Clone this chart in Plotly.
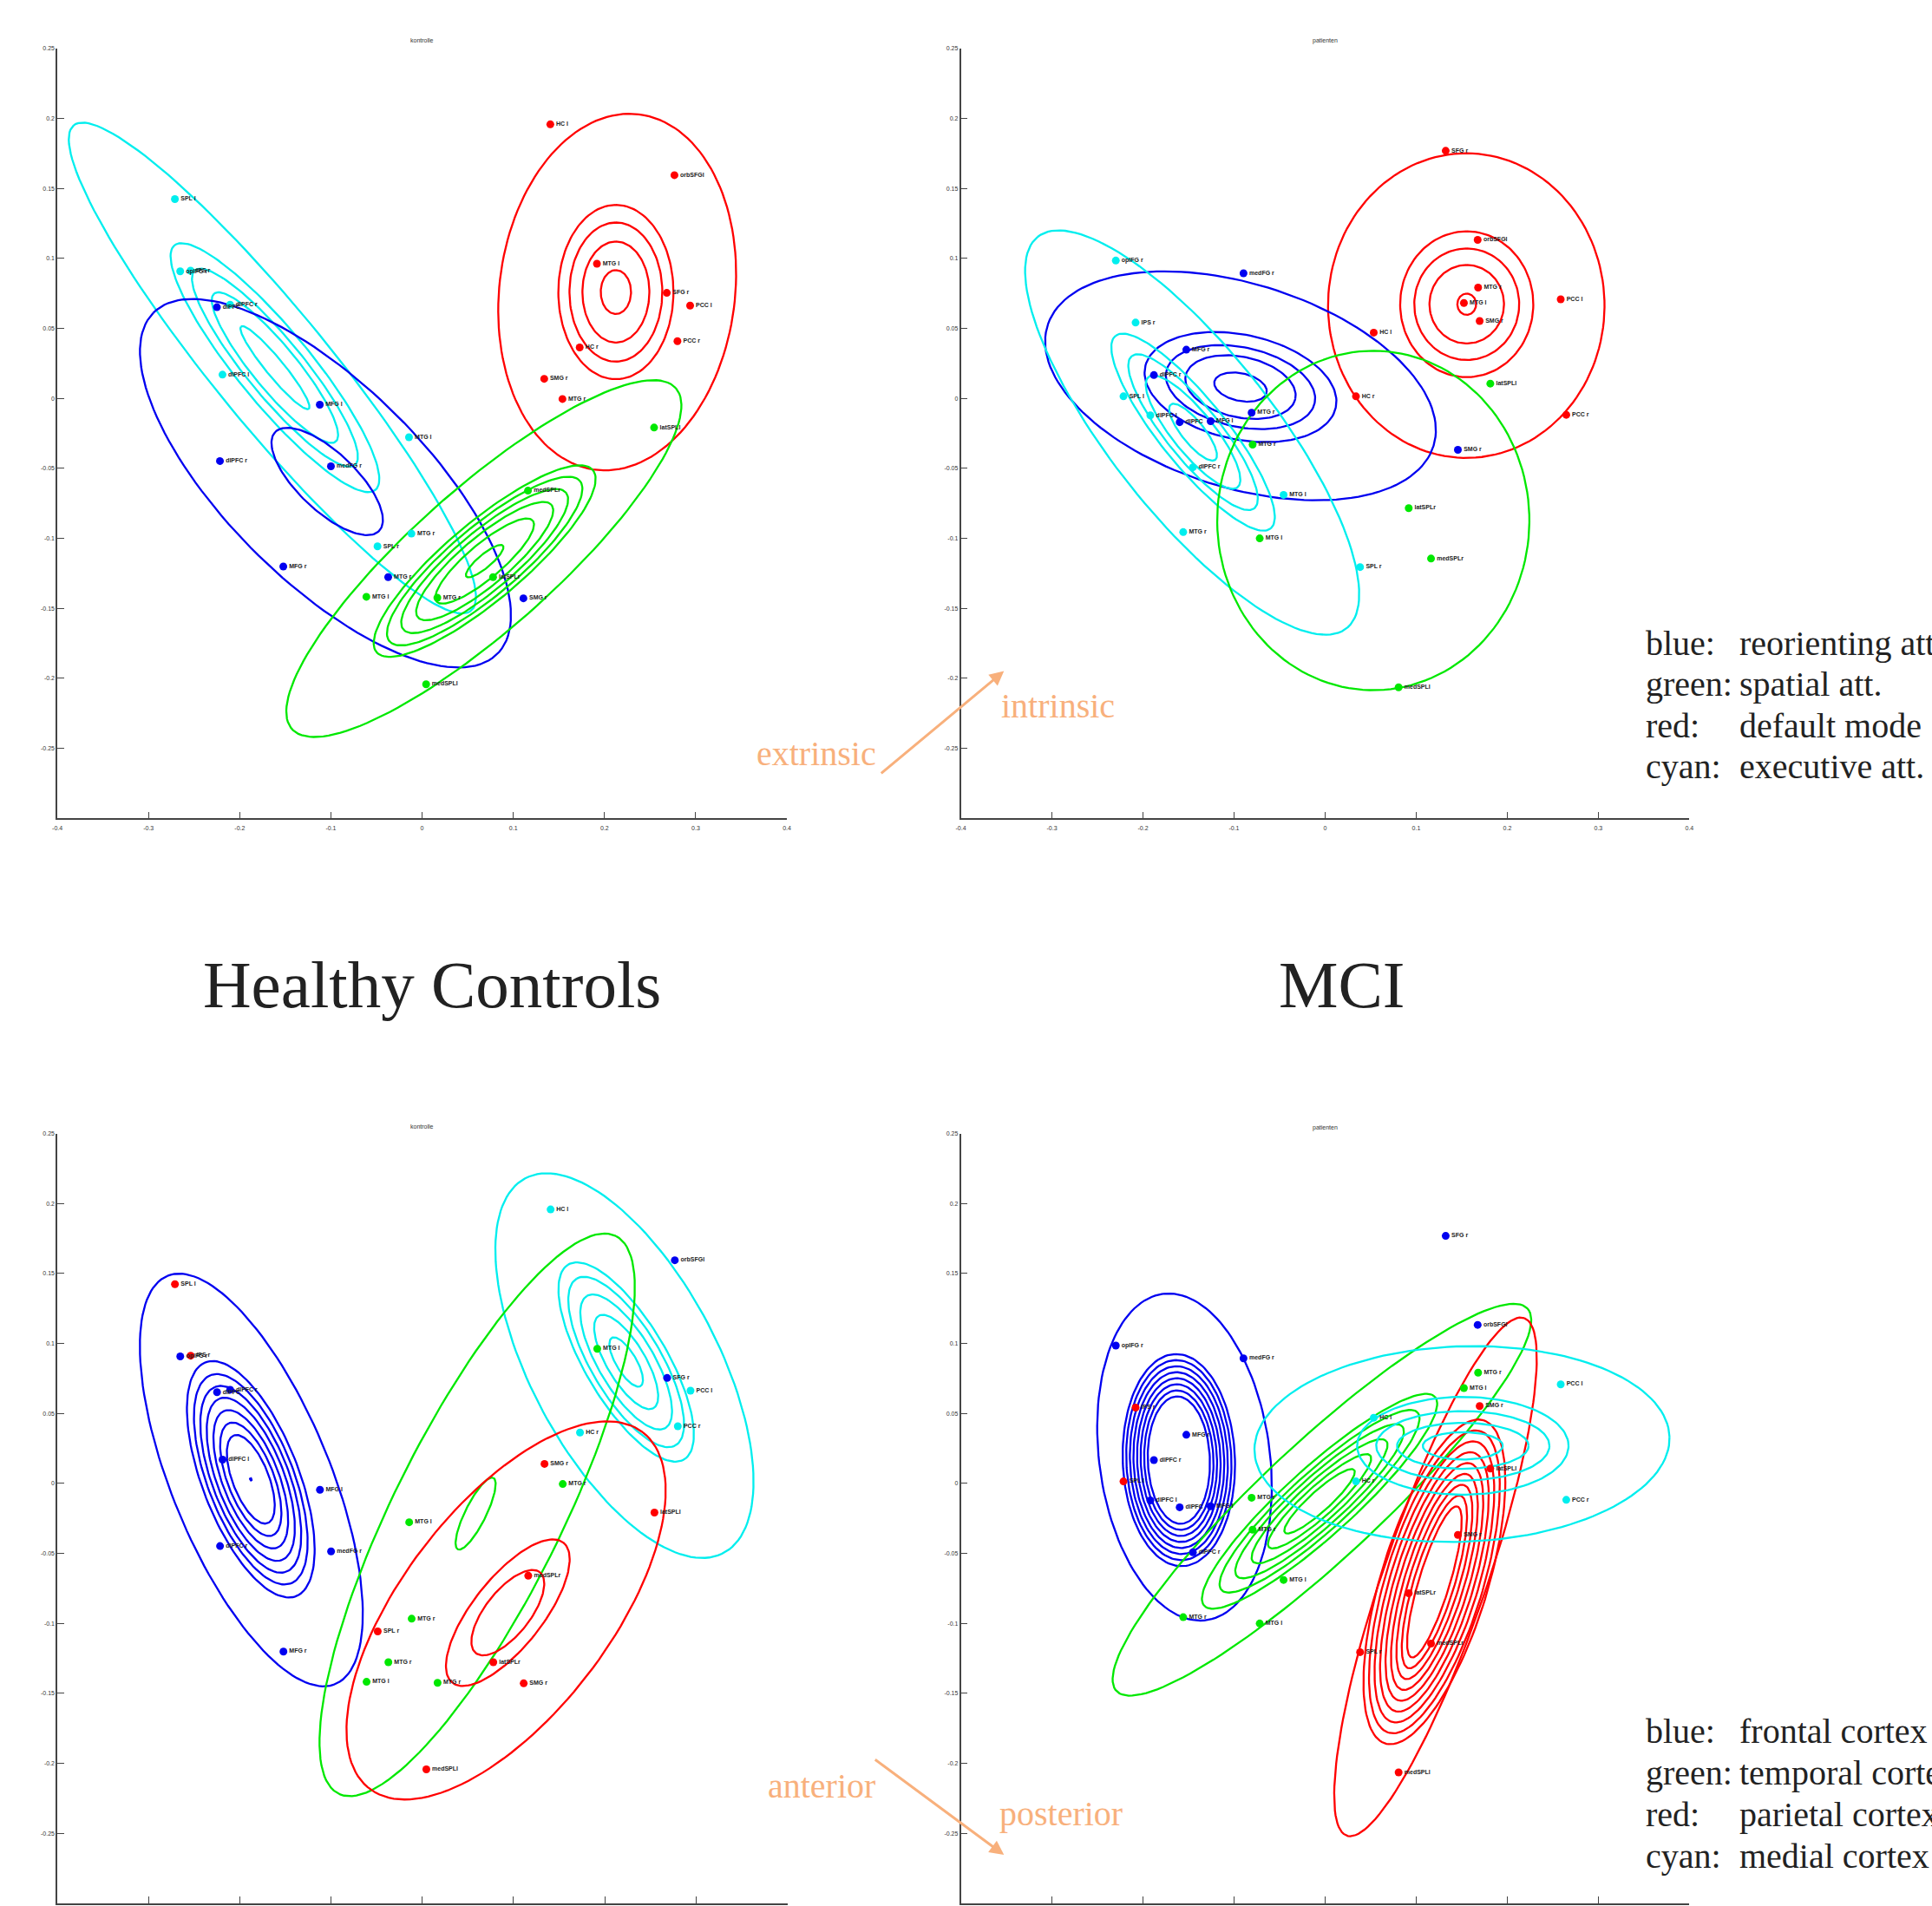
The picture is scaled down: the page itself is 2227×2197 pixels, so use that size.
import numpy as np
import plotly.graph_objects as go

# ---------------- data ----------------
# kontrolle (healthy controls): name, x, y, network colour, region colour
K_names = ["HC l", "orbSFGl", "MTG l", "SFG r", "PCC l", "PCC r", "HC r", "SMG r", "MTG r",
           "SPL l", "opIFG r", "IPS r", "dlPFC r", "dlPFC l", "MTG l", "MTG r", "SPL r",
           "dlPFC", "MFG l", "dlPFC r", "medFG r", "MFG r", "MTG r", "SMG r",
           "medSPLr", "latSPLr", "MTG l", "MTG r", "medSPLl", "latSPLl"]
K_x = [0.1406, 0.2767, 0.1917, 0.2683, 0.2939, 0.2800, 0.1728, 0.1339, 0.1539,
       -0.2711, -0.2653, -0.2539, -0.2106, -0.2189, -0.0144, -0.0117, -0.0489,
       -0.2250, -0.1122, -0.2217, -0.1000, -0.1522, -0.0372, 0.1111,
       0.1161, 0.0778, -0.0611, 0.0167, 0.0044, 0.2544]
K_y = [0.1958, 0.1595, 0.0962, 0.0754, 0.0663, 0.0409, 0.0364, 0.0140, -0.0004,
       0.1424, 0.0908, 0.0913, 0.0670, 0.0170, -0.0277, -0.0966, -0.1057,
       0.0652, -0.0045, -0.0447, -0.0485, -0.1201, -0.1277, -0.1428,
       -0.0659, -0.1277, -0.1417, -0.1424, -0.2042, -0.0208]
K_net = ["r"] * 9 + ["c"] * 8 + ["b"] * 7 + ["g"] * 6
K_reg = ["c", "b", "g", "b", "c", "c", "c", "r", "g",
         "r", "b", "r", "b", "b", "g", "g", "r",
         "b", "b", "b", "b", "b", "g", "r",
         "r", "r", "g", "g", "r", "r"]

# patienten (MCI)
P_names = ["SFG r", "orbSFGl", "MTG r", "MTG l", "SMG r", "PCC l", "HC l", "HC r", "PCC r",
           "opIFG r", "IPS r", "SPL l", "dlPFC l", "dlPFC r", "MTG l", "MTG r", "SPL r",
           "medFG r", "MFG r", "dlPFC r", "MTG r", "dlPFC", "MFG l", "SMG r",
           "latSPLl", "MTG r", "latSPLr", "MTG l", "medSPLr", "medSPLl"]
P_x = [0.1324, 0.1675, 0.1680, 0.1524, 0.1697, 0.2587, 0.0534, 0.0339, 0.2648,
       -0.2298, -0.2081, -0.2214, -0.1919, -0.1452, -0.0456, -0.1558, 0.0384,
       -0.0896, -0.1524, -0.1880, -0.0807, -0.1597, -0.1257, 0.1458,
       0.1814, -0.0796, 0.0918, -0.0718, 0.1163, 0.0807]
P_y = [0.1769, 0.1133, 0.0792, 0.0682, 0.0553, 0.0708, 0.0470, 0.0015, -0.0117,
       0.0985, 0.0542, 0.0015, -0.0121, -0.0492, -0.0689, -0.0955, -0.1205,
       0.0894, 0.0348, 0.0167, -0.0102, -0.0170, -0.0163, -0.0367,
       0.0106, -0.0330, -0.0784, -0.1000, -0.1144, -0.2064]
P_net = ["r"] * 9 + ["c"] * 8 + ["b"] * 7 + ["g"] * 6
P_reg = ["b", "b", "g", "g", "r", "c", "c", "c", "c",
         "b", "r", "r", "b", "b", "g", "g", "r",
         "b", "b", "b", "g", "b", "b", "r",
         "r", "g", "r", "g", "r", "r"]

# density contours / ellipses: (colour, cx, cy, a, b, angle_deg)
TL_ELL = [
    ("r", 0.2139, 0.0760, 0.1957, 0.1292, 83),
    ("r", 0.2125, 0.0760, 0.0953, 0.0631, 90), ("r", 0.2125, 0.0760, 0.0760, 0.0509, 90),
    ("r", 0.2125, 0.0760, 0.0552, 0.0367, 90), ("r", 0.2125, 0.0760, 0.0240, 0.0166, 90),
    ("c", -0.1642, 0.0217, 0.3433, 0.0630, 129.4),
    ("c", -0.1614, 0.0220, 0.1732, 0.0402, 129.5), ("c", -0.1614, 0.0220, 0.1379, 0.0312, 129.5),
    ("c", -0.1614, 0.0220, 0.1048, 0.0243, 129.5), ("c", -0.1614, 0.0220, 0.0583, 0.0098, 129.5),
    ("b", -0.1060, -0.0606, 0.2652, 0.1078, 135.4),
    ("b", -0.1041, -0.0593, 0.0785, 0.0318, 136.6),
    ("g", 0.0677, -0.1144, 0.2811, 0.0772, 41.5),
    ("g", 0.0686, -0.1162, 0.1548, 0.0426, 40), ("g", 0.0686, -0.1162, 0.1363, 0.0375, 40),
    ("g", 0.0686, -0.1162, 0.1164, 0.0320, 40), ("g", 0.0686, -0.1162, 0.0956, 0.0263, 40),
    ("g", 0.0686, -0.1162, 0.0688, 0.0189, 40), ("g", 0.0686, -0.1162, 0.0262, 0.0072, 40),
]
TR_ELL = [
    ("r", 0.1550, 0.0663, 0.1665, 0.1518, 90),
    ("r", 0.1555, 0.0673, 0.0797, 0.0731, 90), ("r", 0.1555, 0.0673, 0.0609, 0.0576, 90),
    ("r", 0.1555, 0.0673, 0.0429, 0.0409, 90), ("r", 0.1555, 0.0673, 0.0116, 0.0103, 90),
    ("b", -0.0929, 0.0090, 0.2219, 0.1115, -17.2),
    ("b", -0.0929, 0.0081, 0.1070, 0.0572, -12), ("b", -0.0929, 0.0081, 0.0833, 0.0435, -12),
    ("b", -0.0929, 0.0081, 0.0615, 0.0331, -12), ("b", -0.0929, 0.0081, 0.0293, 0.0151, -12),
    ("c", -0.1460, -0.0244, 0.2730, 0.0893, 128.4),
    ("c", -0.1450, -0.0241, 0.1354, 0.0364, 129), ("c", -0.1450, -0.0241, 0.1070, 0.0293, 129),
    ("c", -0.1450, -0.0241, 0.0776, 0.0227, 129), ("c", -0.1450, -0.0241, 0.0388, 0.0123, 129),
    ("g", 0.0529, -0.0872, 0.1855, 0.1714, 90),
]
BL_ELL = [
    ("b", -0.1874, 0.0025, 0.2413, 0.0870, 112.4),
    ("b", -0.1880, 0.0030, 0.1371, 0.0530, 111.2), ("b", -0.1880, 0.0030, 0.1220, 0.0472, 111.2),
    ("b", -0.1880, 0.0030, 0.1083, 0.0419, 111.2), ("b", -0.1880, 0.0030, 0.0946, 0.0366, 111.2),
    ("b", -0.1880, 0.0030, 0.0802, 0.0310, 111.2), ("b", -0.1880, 0.0030, 0.0658, 0.0254, 111.2),
    ("b", -0.1880, 0.0030, 0.0514, 0.0199, 111.2), ("b", -0.1880, 0.0030, 0.0015, 0.0008, 111.2),
    ("c", 0.2215, 0.0842, 0.2318, 0.1024, 118),
    ("c", 0.2234, 0.0868, 0.1240, 0.0447, 120.8), ("c", 0.2234, 0.0868, 0.1060, 0.0382, 120.8),
    ("c", 0.2234, 0.0868, 0.0840, 0.0303, 120.8), ("c", 0.2234, 0.0868, 0.0587, 0.0211, 120.8),
    ("c", 0.2234, 0.0868, 0.0307, 0.0111, 120.8),
    ("g", 0.0601, -0.0224, 0.3406, 0.0919, 63.5),
    ("g", 0.0584, -0.0215, 0.0436, 0.0114, 63.5),
    ("r", 0.0918, -0.0907, 0.2457, 0.1138, 52.4),
    ("r", 0.0937, -0.0923, 0.0978, 0.0381, 51.5), ("r", 0.0937, -0.0923, 0.0564, 0.0243, 51.5),
]
BR_ELL = [
    ("b", -0.1544, 0.0189, 0.1799, 0.0937, 97.6),
    ("b", -0.1606, 0.0167, 0.1160, 0.0616, 92), ("b", -0.1606, 0.0167, 0.1094, 0.0577, 92),
    ("b", -0.1606, 0.0167, 0.1027, 0.0537, 92), ("b", -0.1606, 0.0167, 0.0961, 0.0498, 92),
    ("b", -0.1606, 0.0167, 0.0895, 0.0458, 92), ("b", -0.1606, 0.0167, 0.0829, 0.0419, 92),
    ("b", -0.1606, 0.0167, 0.0762, 0.0380, 92), ("b", -0.1606, 0.0167, 0.0696, 0.0341, 92),
    ("g", -0.0035, -0.0116, 0.3076, 0.0639, 42.8),
    ("g", -0.0061, -0.0127, 0.1705, 0.0375, 42), ("g", -0.0061, -0.0127, 0.1449, 0.0319, 42),
    ("g", -0.0061, -0.0127, 0.1222, 0.0269, 42), ("g", -0.0061, -0.0127, 0.0985, 0.0217, 42),
    ("g", -0.0061, -0.0127, 0.0748, 0.0165, 42), ("g", -0.0061, -0.0127, 0.0511, 0.0112, 42),
    ("r", 0.1212, -0.0667, 0.2992, 0.0568, 71),
    ("r", 0.1200, -0.0703, 0.1847, 0.0587, 73), ("r", 0.1200, -0.0703, 0.1723, 0.0535, 73),
    ("r", 0.1200, -0.0703, 0.1600, 0.0483, 73), ("r", 0.1200, -0.0703, 0.1477, 0.0431, 73),
    ("r", 0.1200, -0.0703, 0.1354, 0.0379, 73), ("r", 0.1200, -0.0703, 0.1231, 0.0327, 73),
    ("r", 0.1200, -0.0703, 0.1108, 0.0275, 73), ("r", 0.1200, -0.0703, 0.0985, 0.0223, 73),
    ("r", 0.1200, -0.0703, 0.0862, 0.0170, 73),
    ("c", 0.1503, 0.0282, 0.2280, 0.1068, 2),
    ("c", 0.1512, 0.0269, 0.1161, 0.0535, 0), ("c", 0.1512, 0.0269, 0.0951, 0.0379, 0),
    ("c", 0.1512, 0.0269, 0.0722, 0.0251, 0), ("c", 0.1512, 0.0269, 0.0439, 0.0150, 0),
]

X_TICKS = [-0.4, -0.3, -0.2, -0.1, 0, 0.1, 0.2, 0.3, 0.4]
X_TICKTEXT = ["-0.4", "-0.3", "-0.2", "-0.1", "0", "0.1", "0.2", "0.3", "0.4"]
Y_TICKS = [0.25, 0.2, 0.15, 0.1, 0.05, 0, -0.05, -0.1, -0.15, -0.2, -0.25]
Y_TICKTEXT = ["0.25", "0.2", "0.15", "0.1", "0.05", "0", "-0.05", "-0.1", "-0.15", "-0.2", "-0.25"]

LEGEND_TOP = [("blue:", "reorienting att."), ("green:", "spatial att."),
              ("red:", "default mode"), ("cyan:", "executive att.")]
LEGEND_BOTTOM = [("blue:", "frontal cortex"), ("green:", "temporal cortex"),
                 ("red:", "parietal cortex"), ("cyan:", "medial cortex")]

# ---------------- styling ----------------
COL = {"b": "#0000f0", "g": "#00e800", "r": "#ff0000", "c": "#00eeee"}
W, H = 2227, 2197
ASPECT = 1.53  # screen px per y-unit / px per x-unit

panels = [
    ("x", "y", [60.4 / W, 905.5 / W], [1 - 941 / H, 1 - 52 / H], TL_ELL, K_x, K_y, K_net, K_names, "kontrolle", 43, True),
    ("x2", "y2", [1107 / W, 1951 / W], [1 - 941 / H, 1 - 52 / H], TR_ELL, P_x, P_y, P_net, P_names, "patienten", 43, True),
    ("x3", "y3", [60.4 / W, 906 / W], [1 - 2194 / H, 1 - 1305 / H], BL_ELL, K_x, K_y, K_reg, K_names, "kontrolle", 1297, False),
    ("x4", "y4", [1107 / W, 1951 / W], [1 - 2194 / H, 1 - 1305 / H], BR_ELL, P_x, P_y, P_reg, P_names, "patienten", 1298, False),
]


def ellipse(cx, cy, a, b, ang, n=140):
    t = np.linspace(0, 2 * np.pi, n)
    th = np.radians(ang)
    xs = a * np.cos(t) * np.cos(th) - b * np.sin(t) * np.sin(th)
    ys = a * np.cos(t) * np.sin(th) + b * np.sin(t) * np.cos(th)
    return cx + xs, cy + ys / ASPECT


fig = go.Figure()
layout = dict(width=W, height=H, autosize=False, margin=dict(l=0, r=0, t=0, b=0),
              paper_bgcolor="white", plot_bgcolor="white", showlegend=False)
annotations = []

for i, (xa, ya, xd, yd, ells, px, py, pc, pn, title, ty, show_x) in enumerate(panels):
    for (c, cx, cy, a, b, ang) in ells:
        ex, ey = ellipse(cx, cy, a, b, ang)
        fig.add_trace(go.Scatter(x=ex, y=ey, mode="lines", xaxis=xa, yaxis=ya,
                                 line=dict(color=COL[c], width=2.3), hoverinfo="skip"))
    fig.add_trace(go.Scatter(x=px, y=py, mode="markers+text", xaxis=xa, yaxis=ya,
                             text=["<b>%s</b>" % s for s in pn], textposition="middle right",
                             textfont=dict(family="Liberation Sans", size=7, color="#222"),
                             marker=dict(size=9, color=[COL[c] for c in pc]),
                             cliponaxis=False))
    sfx = "" if i == 0 else str(i + 1)
    layout["xaxis" + sfx] = dict(domain=xd, range=[-0.4, 0.4], anchor=ya, showgrid=False, zeroline=False,
                                 showline=True, linecolor="#444", linewidth=1.5, ticks="inside",
                                 ticklen=8, tickcolor="#444", tickvals=X_TICKS, ticktext=X_TICKTEXT,
                                 showticklabels=show_x, ticklabelstandoff=4,
                                 tickfont=dict(family="Liberation Sans", size=7, color="#333"))
    layout["yaxis" + sfx] = dict(domain=yd, range=[-0.3, 0.25], anchor=xa, showgrid=False, zeroline=False,
                                 showline=True, linecolor="#444", linewidth=1.5, ticks="inside",
                                 ticklen=8, tickcolor="#444", tickvals=Y_TICKS, ticktext=Y_TICKTEXT,
                                 tickfont=dict(family="Liberation Sans", size=7, color="#333"))
    annotations.append(dict(text=title, xref="paper", yref="paper", x=(xd[0] + xd[1]) / 2, y=1 - ty / H,
                            showarrow=False, font=dict(family="Liberation Sans", size=7, color="#333"),
                            xanchor="center", yanchor="middle"))

serif = "Liberation Serif, Times New Roman, serif"
annotations.append(dict(text="Healthy Controls", xref="paper", yref="paper", x=494 / W, y=1 - 1133 / H,
                        showarrow=False, font=dict(family=serif, size=77, color="#222"),
                        xanchor="center", yanchor="middle"))
annotations.append(dict(text="MCI", xref="paper", yref="paper", x=1548 / W, y=1 - 1133 / H,
                        showarrow=False, font=dict(family=serif, size=77, color="#222"),
                        xanchor="center", yanchor="middle"))

for lines, ys in ((LEGEND_TOP, [739, 786, 834, 881]), (LEGEND_BOTTOM, [1995, 2043, 2091, 2139])):
    for (lab, desc), yy in zip(lines, ys):
        annotations.append(dict(text=lab, xref="paper", yref="paper", x=1898 / W, y=1 - yy / H,
                                showarrow=False, font=dict(family=serif, size=40, color="#222"),
                                xanchor="left", yanchor="middle"))
        annotations.append(dict(text=desc, xref="paper", yref="paper", x=2007 / W, y=1 - yy / H,
                                showarrow=False, font=dict(family=serif, size=40, color="#222"),
                                xanchor="left", yanchor="middle"))

ORANGE = "#f8b07c"
for hx, hy, tx, tyy in ((1157, 771, 1014, 890), (1157, 2138, 1007, 2027)):
    annotations.append(dict(text="", xref="paper", yref="paper", x=hx / W, y=1 - hy / H,
                            ax=tx - hx, ay=tyy - hy, showarrow=True, arrowhead=2, arrowsize=1.1,
                            arrowwidth=3, arrowcolor=ORANGE, standoff=0, startstandoff=0))
for txt, cx, cy in (("extrinsic", 940, 866), ("intrinsic", 1220, 811),
                    ("anterior", 946, 2058), ("posterior", 1223, 2090)):
    annotations.append(dict(text=txt, xref="paper", yref="paper", x=cx / W, y=1 - cy / H,
                            showarrow=False, font=dict(family=serif, size=40, color=ORANGE),
                            xanchor="center", yanchor="middle"))

layout["annotations"] = annotations
fig.update_layout(**layout)
fig.write_html("out.html", config={"displayModeBar": False},
               post_script="document.body.style.margin='0';document.body.style.overflow='hidden';")
